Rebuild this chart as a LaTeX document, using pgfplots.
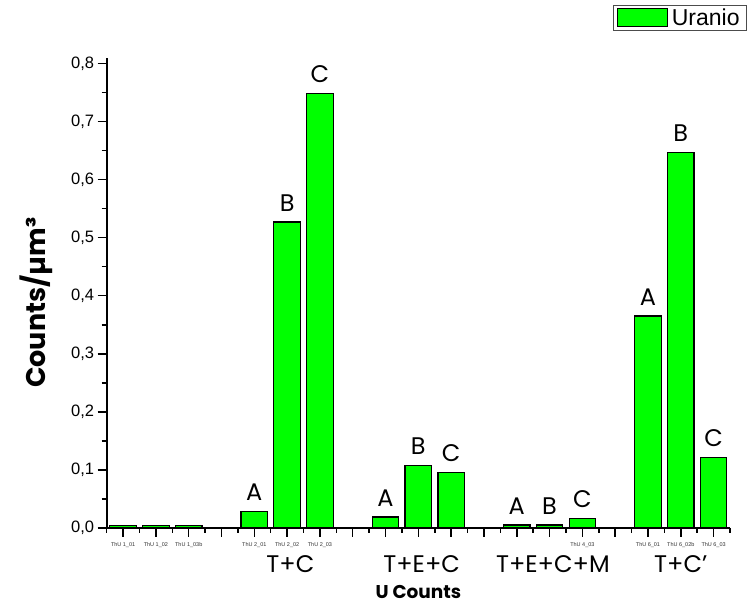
\documentclass[border=0pt]{standalone}
\usepackage{pgfplots}
\pgfplotsset{compat=1.18}
\usepackage{pgfplotstable}
\usepackage{fontspec}
\setmainfont{Liberation Sans}
\newfontfamily\pop{Poppins}

\pgfplotstableread{
x y lab
1 0.004 {}
2 0.004 {}
3 0.004 {}
5 0.028 A
6 0.527 B
7 0.749 C
9 0.019 A
10 0.107 B
11 0.095 C
13 0.005 A
14 0.005 B
15 0.017 C
17 0.365 A
18 0.647 B
19 0.122 C
}\data

\begin{document}
\begin{tikzpicture}
\begin{axis}[
  scale only axis, width=623.3pt, height=470.3pt,
  xmin=0.5, xmax=19.5, ymin=0, ymax=0.81,
  clip=false, axis on top,
  axis x line=bottom, axis y line=left,
  axis line style={line width=1.8pt, -},
  x axis line style={-}, y axis line style={-},
  xtick={1,2,3,4,5,6,7,8,9,10,11,12,13,14,15,16,17,18,19},
  xticklabels={ThU 1\_01, ThU 1\_02, ThU 1\_03b, , ThU 2\_01, ThU 2\_02, ThU 2\_03, , , , , , , , ThU 4\_03, , ThU 6\_01, ThU 6\_02b, ThU 6\_03},
  minor xtick={0.5,1.5,2.5,3.5,4.5,5.5,6.5,7.5,8.5,9.5,10.5,11.5,12.5,13.5,14.5,15.5,16.5,17.5,18.5,19.5},
  ytick={0,0.1,0.2,0.3,0.4,0.5,0.6,0.7,0.8},
  minor ytick={0.05,0.15,0.25,0.35,0.45,0.55,0.65,0.75},
  tick align=outside, major tick length=9pt, minor tick length=5pt,
  tick style={draw=black, line width=1.5pt},
  xticklabel style={font=\fontsize{5.5}{6}\selectfont, text=black!80, yshift=-2pt},
  yticklabel style={font=\fontsize{16.5}{18}\selectfont,
     /pgf/number format/.cd, fixed, fixed zerofill, precision=1, use comma, assume math mode=true},
  xlabel={U Counts},
  xlabel style={font=\pop\bfseries\fontsize{18.5}{20}\selectfont, at={(ticklabel cs:0.5)}, anchor=north, yshift=-31pt},
  ylabel={Counts/µm³},
  ylabel style={font=\pop\bfseries\fontsize{27}{29}\selectfont, at={(ticklabel cs:0.5)}, anchor=south, rotate=0, yshift=12pt, xshift=-10pt},
  legend style={at={(1,1)}, anchor=north east, xshift=17pt, yshift=52.7pt,
     draw=black!70, line width=0.8pt, font=\fontsize{23}{25}\selectfont,
     inner xsep=3pt, inner ysep=1pt, row sep=0pt,
     nodes={inner xsep=4pt, inner ysep=2.5pt}},
  legend image code/.code={\draw[fill=green, draw=black, line width=1pt] (2pt,-9pt) rectangle (52pt,9pt);},
]
\addplot[ybar, bar width=26.5pt, fill=green, draw=black, line width=1.2pt,
  nodes near coords, point meta=explicit symbolic,
  every node near coord/.append style={font=\pop\fontsize{24}{26}\selectfont, text=black, yshift=7pt}]
  table[x=x, y=y, meta=lab] {\data};
\addlegendentry{Uranio}
\coordinate (bl) at (rel axis cs:0,0);
% x-axis tick marks (axis furniture)
\pgfplotsinvokeforeach{1,2,3,4,5,6,7,8,9,10,11,12,13,14,15,16,17,18,19}{
  \draw[line width=1.5pt, black] (axis cs:#1,0) -- ++(0pt,-9.5pt);
}
\pgfplotsinvokeforeach{0.5,1.5,2.5,3.5,4.5,5.5,6.5,7.5,8.5,9.5,10.5,11.5,12.5,13.5,14.5,15.5,16.5,17.5,18.5,19.5}{
  \draw[line width=1.5pt, black] (axis cs:#1,0) -- ++(0pt,-5.5pt);
}
\node[anchor=base, font=\pop\fontsize{24}{26}\selectfont, yshift=-45pt] at (axis cs:6.1,0) {T+C};
\node[anchor=base, font=\pop\fontsize{24}{26}\selectfont, yshift=-45pt] at (axis cs:10.1,0) {T+E+C};
\node[anchor=base, font=\pop\fontsize{24}{26}\selectfont, yshift=-45pt] at (axis cs:14.1,0) {T+E+C+M};
\node[anchor=base, font=\pop\fontsize{24}{26}\selectfont, yshift=-45pt] at (axis cs:18,0) {T+C’};
\end{axis}
\pgfresetboundingbox
\path ([shift={(-106.7pt,-76pt)}]bl) rectangle ([shift={(646.3pt,528pt)}]bl);
\end{tikzpicture}
\end{document}
